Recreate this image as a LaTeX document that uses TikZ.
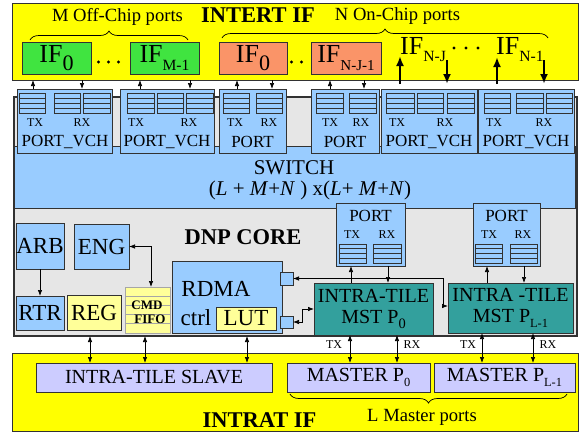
\documentclass[tikz,border=0pt]{standalone}
\usepackage{fontspec}
\usepackage{graphicx}
\setmainfont{Liberation Serif}
\usetikzlibrary{arrows.meta,decorations.pathreplacing}
\definecolor{yel}{RGB}{255,255,0}
\definecolor{grn}{RGB}{64,228,64}
\definecolor{org}{RGB}{250,148,104}
\definecolor{lblue}{RGB}{153,204,255}
\definecolor{corefill}{RGB}{230,230,230}
\definecolor{lyel}{RGB}{255,255,153}
\definecolor{tealf}{RGB}{51,160,157}
\definecolor{lav}{RGB}{204,204,255}
\definecolor{edge}{RGB}{50,50,50}
\newcommand{\fsz}[1]{\fontsize{#1}{#1}\selectfont}
\newcommand{\lsub}[2][0.72]{\raisebox{-0.28em}{\scalebox{#1}{#2}}}
\newcommand{\mybox}[7]{\node[bx,#2,minimum width={(#5)*1pt-(#3)*1pt},minimum height={(#6)*1pt-(#4)*1pt}] (#1) at (#3,#4) {#7};}
\newcommand{\fifo}[4]{\draw[fifobox] (#1,#2) rectangle (#3,#4);
  \foreach \k in {1,2,3}{\draw[fifoline] (#1,{#2+(#4-#2)*\k/4}) -- (#3,{#2+(#4-#2)*\k/4});}}
\begin{document}
\begin{tikzpicture}[x=1pt,y=-1pt,
  bx/.style={draw=edge, line width=0.8pt, inner sep=0pt, outer sep=0pt, anchor=north west, align=center},
  fifobox/.style={draw=edge, fill=lblue, line width=0.7pt},
  fifoline/.style={draw=edge, line width=0.6pt},
  arr/.style={line width=0.7pt, -{Latex[length=6pt,width=4.5pt]}},
  dbl/.style={line width=0.7pt, {Latex[length=6pt,width=4.5pt]}-{Latex[length=6pt,width=4.5pt]}},
  tarr/.style={line width=2.4pt, -{Latex[length=10pt,width=8pt]}},
  txt/.style={inner sep=0pt},
  small/.style={inner sep=0pt, font=\fsz{12}},
  brc/.style={decorate, decoration={brace, amplitude=9pt}, line width=0.7pt}
]
\useasboundingbox (0,0) rectangle (582,432);

% ---------- top interface
\mybox{intert}{fill=yel}{12}{3}{578}{80}{}
\node[txt, font=\fsz{22.5}\bfseries] (tintert) at (258,15) {INTERT IF};
\node[txt, font=\fsz{18.6}] (tmoff) at (117.5,17) {M Off-Chip ports};
\node[txt, font=\fsz{18.6}] (tnon) at (397.5,16) {N On-Chip ports};
\draw[brc] (30,40) -- (188,40);
\draw[brc] (222,38) -- (548,38);

\mybox{ifa}{fill=grn,font=\fsz{26}}{22}{42}{91}{74}{IF\lsub[0.85]{0}}
\mybox{ifb}{fill=grn,font=\fsz{26}}{130}{42}{199}{74}{IF\lsub[0.6]{M-1}}
\mybox{ifc}{fill=org,font=\fsz{26}}{219}{42}{287}{74}{IF\lsub[0.85]{0}}
\mybox{ifd}{fill=org,font=\fsz{26}}{311}{42}{381}{74}{IF\lsub[0.58]{N-J-1}}
\foreach \xx in {98.5,108.5,118.5}{\fill (\xx,62) circle (1.6pt);}
\foreach \xx in {291.5,301.5}{\fill (\xx,62) circle (1.6pt);}
\foreach \xx in {454,466,478}{\fill (\xx,48) circle (1.6pt);}
\node[txt, font=\fsz{26}, anchor=base west] (ifnj) at (400,54) {IF\lsub[0.6]{N-J}};
\node[txt, font=\fsz{26}, anchor=base west] (ifn1) at (496,54) {IF\lsub[0.6]{N-1}};

% ---------- DNP core
\mybox{core}{fill=corefill, draw=edge, line width=1.1pt}{14}{97}{577}{336}{}
\mybox{sw}{fill=lblue}{14}{146}{575}{208}{}
\node[txt, font=\fsz{21}] (tsw) at (294,168) {SWITCH};
\node[txt, font=\fsz{21}] (tsw2) at (310,190) {(\textit{L} + \textit{M}+\textit{N} ) x(\textit{L}+ \textit{M}+\textit{N})};

% top ports
\mybox{p1}{fill=lblue}{17}{89}{112}{153}{}
\mybox{p2}{fill=lblue}{120}{89}{214}{153}{}
\mybox{p3}{fill=lblue}{219}{89}{286}{153}{}
\mybox{p4}{fill=lblue}{311}{89}{379}{153}{}
\mybox{p5}{fill=lblue}{381}{89}{477}{153}{}
\mybox{p6}{fill=lblue}{478}{89}{574}{153}{}
\fifo{19}{93}{45}{113}\fifo{54}{93}{80}{113}\fifo{83}{93}{110}{113}
\fifo{127}{93}{154}{113}\fifo{157}{93}{183}{113}\fifo{186}{93}{213}{113}
\fifo{223}{93}{249}{113}\fifo{256}{93}{282}{113}
\fifo{316}{93}{343}{113}\fifo{349}{93}{376}{113}
\fifo{386}{93}{414}{113}\fifo{417}{93}{443}{113}\fifo{447}{93}{474}{113}
\fifo{484}{93}{510}{113}\fifo{516}{93}{543}{113}\fifo{546}{93}{572}{113}
\foreach \xx/\lab in {35/TX,82/RX,136/TX,189/RX,235/TX,269/RX,330/TX,361/RX,397/TX,445/RX,494/TX,544/RX}{\node[small] at (\xx,123) {\lab};}
\foreach \nm/\xx/\lab in {p1/65/PORT\_VCH,p2/167/PORT\_VCH,p3/252.5/PORT,p4/345/PORT,p5/429/PORT\_VCH,p6/526/PORT\_VCH}{\node[txt,font=\fsz{17}] (\nm lab) at (\xx,142) {\lab};}

% bottom ports of switch
\mybox{b1}{fill=lblue}{336}{203}{405}{266}{}
\mybox{b2}{fill=lblue}{473}{203}{540}{266}{}
\node[txt,font=\fsz{17}] (b1lab) at (370.5,216) {PORT};
\node[txt,font=\fsz{17}] (b2lab) at (506.5,216) {PORT};
\foreach \xx/\lab in {352/TX,387/RX,489/TX,523/RX}{\node[small] at (\xx,235) {\lab};}
\fifo{339}{244}{366}{263}\fifo{373}{244}{401}{263}
\fifo{475}{244}{502}{263}\fifo{510}{244}{537}{263}

\node[txt, font=\fsz{22.5}\bfseries] (tdnp) at (243,237) {DNP CORE};

\mybox{arb}{fill=lblue,font=\fsz{23}}{16}{223}{64}{269}{ARB}
\mybox{eng}{fill=lblue,font=\fsz{23}}{74}{224}{129}{269}{ENG}
\mybox{rtr}{fill=lblue,font=\fsz{23}}{16}{296}{64}{330}{RTR}
\mybox{reg}{fill=lyel,font=\fsz{23}}{67}{295}{121}{330}{REG}
\mybox{cmd}{fill=lyel,draw=gray!70}{125}{287}{170}{333}{}
\foreach \yy in {296.2,305.4,314.6,323.8}{\draw[gray!70, line width=0.7pt] (cmd.west |- 0,\yy) -- (cmd.east |- 0,\yy);}
\node[txt, font=\fsz{13}\bfseries] (tcmd) at (147,305) {CMD};
\node[txt, font=\fsz{13}\bfseries] (tfifo) at (150,319) {FIFO};

\mybox{rdma}{fill=lblue}{172}{261}{282}{333}{}
\node[txt, font=\fsz{23}] (trdma) at (216,289) {RDMA};
\node[txt, font=\fsz{23}] (tctrl) at (196,318) {ctrl};
\mybox{lut}{fill=lyel,font=\fsz{23}}{216}{307}{276}{330}{LUT}
\mybox{sq1}{fill=lblue}{280}{272}{293}{285}{}
\mybox{sq2}{fill=lblue}{280}{316}{293}{328}{}

\mybox{mst0}{fill=tealf,font=\fontsize{20}{21}\selectfont}{314}{283}{433}{335}{INTRA-TILE\\MST P\lsub{0}}
\mybox{mst1}{fill=tealf,font=\fontsize{20}{21}\selectfont}{448}{283}{573}{333}{INTRA -TILE\\MST P\lsub[0.62]{L-1}}

% ---------- bottom interface
\mybox{intrat}{fill=yel}{12}{353}{578}{431}{}
\mybox{slave}{fill=lav,font=\fsz{20}}{36}{363}{272}{392}{INTRA-TILE SLAVE}
\mybox{m0}{fill=lav,font=\fsz{20}}{287}{363}{430}{392}{MASTER P\lsub[0.62]{0}}
\mybox{m1}{fill=lav,font=\fsz{20}}{434}{363}{575}{392}{MASTER P\lsub[0.62]{L-1}}
\draw[brc] (567,394) -- (290,394);
\node[txt, font=\fsz{22.5}\bfseries] (tintrat) at (259.5,420) {INTRAT IF};
\node[txt, font=\fsz{18.6}] (tlmast) at (422,417) {L Master ports};

% ---------- connectors
\foreach \pn/\xa/\xb in {p1/33/82,p2/140/190,p3/237/272,p4/330/364}{
  \draw[arr] (\pn.north -| \xa,0) -- (intert.south -| \xa,0);
  \draw[arr] (intert.south -| \xb,0) -- (\pn.north -| \xb,0);
}
\coordinate (u5) at (400,56);
\coordinate (d5) at (447,60);
\coordinate (u6) at (497,57);
\coordinate (d6) at (544,60);
\draw[tarr, shorten <=5pt] (p5.north -| u5) -- (u5);
\draw[tarr, shorten >=5pt] (d5) -- (p5.north -| d5);
\draw[tarr, shorten <=5pt] (p6.north -| u6) -- (u6);
\draw[tarr, shorten >=5pt] (d6) -- (p6.north -| d6);

\draw[arr] (mst0.north -| 351,0) -- (b1.south -| 351,0);
\draw[arr] (b1.south -| 388,0) -- (mst0.north -| 388,0);
\draw[arr] (mst1.north -| 487,0) -- (b2.south -| 487,0);
\draw[arr] (b2.south -| 524,0) -- (mst1.north -| 524,0);

\draw[arr] (arb.south) -- (rtr.north);
\draw[dbl] (eng.east) -| (cmd.north -| 151,0);

\coordinate (k1) at (443,306);
\coordinate (k2) at (302,309);
\draw[dbl] (sq1.east) -| (k1) -- (mst1.west |- k1);
\draw[dbl] (sq2.east) -| (k2) -- (mst0.west |- k2);

\foreach \xx in {90,145,247}{\draw[dbl] (core.south -| \xx,0) -- (slave.north -| \xx,0);}
\draw[dbl] (mst0.south -| 350,0) -- (m0.north -| 350,0);
\draw[dbl] (mst0.south -| 397,0) -- (m0.north -| 397,0);
\draw[dbl] (mst1.south -| 482,0) -- (m1.north -| 482,0);
\draw[dbl] (mst1.south -| 533,0) -- (m1.north -| 533,0);
\foreach \xx/\lab in {334/TX,412/RX,468/TX,548/RX}{\node[small] at (\xx,345) {\lab};}
\end{tikzpicture}
\end{document}
